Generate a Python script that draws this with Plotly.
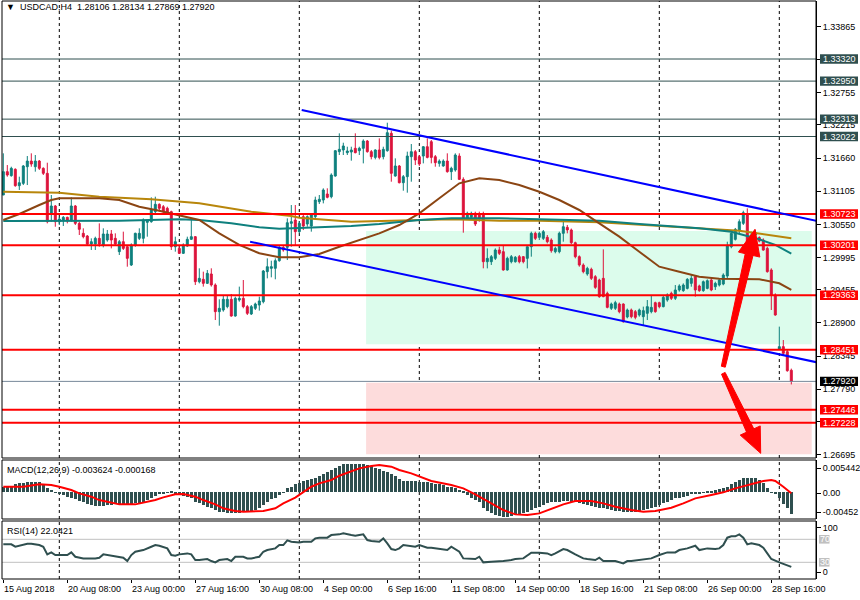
import plotly.graph_objects as go

# ---------------- data ----------------
N = 198
bar_index = list(range(N))

open_ = [1.31042, 1.31433, 1.31366, 1.31472, 1.31198, 1.31237, 1.31516, 1.31611, 1.31516, 1.31611,
         1.31489, 1.31405, 1.30735, 1.30858, 1.30595, 1.30623, 1.30668, 1.30623, 1.30858, 1.30567,
         1.30400, 1.30355, 1.30221, 1.30221, 1.30316, 1.30204, 1.30288, 1.30389, 1.30316, 1.30093,
         1.30260, 1.30176, 1.29869, 1.30204, 1.30316, 1.30316, 1.30584, 1.30595, 1.30763, 1.30886,
         1.30846, 1.30819, 1.30763, 1.30176, 1.30148, 1.30065, 1.30187, 1.30300, 1.30344, 1.29590,
         1.29630, 1.29562, 1.29719, 1.29535, 1.29088, 1.29116, 1.29172, 1.29295, 1.29015, 1.29283,
         1.29311, 1.29172, 1.29049, 1.29144, 1.29199, 1.29255, 1.29758, 1.29814, 1.29814, 1.29942,
         1.30165, 1.30165, 1.30567, 1.30623, 1.30428, 1.30679, 1.30556, 1.30523, 1.30679, 1.30930,
         1.30958, 1.31059, 1.31014, 1.31360, 1.31768, 1.31796, 1.31751, 1.31762, 1.31824, 1.31784,
         1.31824, 1.31946, 1.31768, 1.31672, 1.31796, 1.31684, 1.31784, 1.32075, 1.31360, 1.31528,
         1.31248, 1.31349, 1.31684, 1.31768, 1.31684, 1.31695, 1.31851, 1.31935, 1.31684, 1.31572,
         1.31528, 1.31611, 1.31433, 1.31461, 1.31695, 1.31304, 1.30651, 1.30668, 1.30735, 1.30724,
         1.30724, 1.29925, 1.29925, 1.29981, 1.30121, 1.30093, 1.29786, 1.29925, 1.29925, 1.30009,
         1.30009, 1.29981, 1.30176, 1.30400, 1.30333, 1.30316, 1.30333, 1.30288, 1.30093, 1.30093,
         1.30400, 1.30500, 1.30456, 1.30243, 1.30009, 1.29869, 1.29719, 1.29797, 1.29674, 1.29618,
         1.29646, 1.29395, 1.29144, 1.29144, 1.29216, 1.29216, 1.28999, 1.29116, 1.29088, 1.29032,
         1.29004, 1.29060, 1.29088, 1.29238, 1.29238, 1.29172, 1.29283, 1.29395, 1.29311, 1.29451,
         1.29440, 1.29478, 1.29562, 1.29674, 1.29518, 1.29440, 1.29478, 1.29618, 1.29506, 1.29534,
         1.29551, 1.29685, 1.30176, 1.30299, 1.30456, 1.30567, 1.30707, 1.30260, 1.30372, 1.30330,
         1.30288, 1.30148, 1.29786, 1.29367, 1.28460, 1.28502, 1.28418, 1.28106]

high_ = [1.31740, 1.31544, 1.31516, 1.31489, 1.31349, 1.31544, 1.31695, 1.31740, 1.31712, 1.31628,
         1.31505, 1.31583, 1.31042, 1.30874, 1.30668, 1.30690, 1.30679, 1.31003, 1.30874, 1.30595,
         1.30484, 1.30372, 1.30316, 1.30344, 1.30567, 1.30484, 1.30456, 1.30456, 1.30400, 1.30288,
         1.30428, 1.30187, 1.30232, 1.30411, 1.30484, 1.30651, 1.30623, 1.31003, 1.31014, 1.30902,
         1.30874, 1.30846, 1.30779, 1.30344, 1.30204, 1.30232, 1.30344, 1.30623, 1.30355, 1.29814,
         1.29758, 1.29786, 1.29814, 1.29562, 1.29295, 1.29367, 1.29367, 1.29384, 1.29339, 1.29507,
         1.29618, 1.29199, 1.29199, 1.29239, 1.29339, 1.29786, 1.29981, 1.29942, 1.29981, 1.30187,
         1.30187, 1.30651, 1.30874, 1.30874, 1.30600, 1.30707, 1.30700, 1.30720, 1.31014, 1.31042,
         1.31154, 1.31154, 1.31405, 1.31796, 1.32075, 1.31918, 1.31851, 1.31851, 1.32075, 1.31851,
         1.31974, 1.31963, 1.31796, 1.31807, 1.31991, 1.31851, 1.32253, 1.32119, 1.31656, 1.31544,
         1.31377, 1.31768, 1.31896, 1.31796, 1.31712, 1.31863, 1.31991, 1.31963, 1.31712, 1.31639,
         1.31639, 1.31740, 1.31516, 1.31740, 1.31740, 1.31338, 1.30763, 1.30763, 1.30763, 1.30763,
         1.30763, 1.30148, 1.30037, 1.30148, 1.30176, 1.30204, 1.30009, 1.30037, 1.30020, 1.30037,
         1.30020, 1.30176, 1.30428, 1.30428, 1.30428, 1.30456, 1.30372, 1.30316, 1.30176, 1.30428,
         1.30634, 1.30540, 1.30480, 1.30260, 1.30030, 1.29897, 1.29840, 1.29825, 1.29700, 1.29640,
         1.30132, 1.29423, 1.29240, 1.29270, 1.29240, 1.29227, 1.29140, 1.29140, 1.29116, 1.29140,
         1.29172, 1.29283, 1.29367, 1.29255, 1.29255, 1.29367, 1.29395, 1.29423, 1.29534, 1.29546,
         1.29562, 1.29650, 1.29702, 1.29685, 1.29540, 1.29610, 1.29629, 1.29640, 1.29590, 1.29640,
         1.29730, 1.30260, 1.30420, 1.30490, 1.30634, 1.30779, 1.30818, 1.30428, 1.30456, 1.30350,
         1.30316, 1.30176, 1.29814, 1.29395, 1.28837, 1.28613, 1.28446, 1.28134]

low_ = [1.31042, 1.31349, 1.31349, 1.31181, 1.31126, 1.31209, 1.31209, 1.31516, 1.31433, 1.31461,
        1.31377, 1.30567, 1.30595, 1.30511, 1.30539, 1.30523, 1.30567, 1.30595, 1.30539, 1.30372,
        1.30316, 1.30204, 1.30121, 1.30121, 1.30176, 1.30165, 1.30260, 1.30148, 1.30204, 1.30037,
        1.30121, 1.29841, 1.29853, 1.30176, 1.30288, 1.30232, 1.30344, 1.30578, 1.30735, 1.30763,
        1.30707, 1.30707, 1.30121, 1.30093, 1.30054, 1.30054, 1.30176, 1.30288, 1.29535, 1.29562,
        1.29507, 1.29551, 1.29507, 1.28948, 1.28853, 1.29088, 1.29144, 1.29004, 1.29004, 1.29255,
        1.29144, 1.29032, 1.29032, 1.29116, 1.29105, 1.29227, 1.29646, 1.29663, 1.29630, 1.29925,
        1.30093, 1.29953, 1.30176, 1.30204, 1.30400, 1.30455, 1.30511, 1.30428, 1.30623, 1.30891,
        1.30902, 1.30986, 1.30986, 1.31349, 1.31712, 1.31712, 1.31712, 1.31617, 1.31740, 1.31712,
        1.31572, 1.31751, 1.31639, 1.31639, 1.31639, 1.31639, 1.31768, 1.31265, 1.31349, 1.31237,
        1.31114, 1.31081, 1.31265, 1.31544, 1.31528, 1.31572, 1.31656, 1.31572, 1.31516, 1.31516,
        1.31516, 1.31416, 1.31293, 1.31433, 1.31293, 1.30411, 1.30623, 1.30623, 1.30523, 1.30595,
        1.29814, 1.29813, 1.29870, 1.29953, 1.30037, 1.29775, 1.29775, 1.29897, 1.29909, 1.29897,
        1.29897, 1.29813, 1.30009, 1.30288, 1.30288, 1.30288, 1.30232, 1.30076, 1.30065, 1.30065,
        1.30260, 1.30400, 1.30220, 1.29981, 1.29841, 1.29730, 1.29690, 1.29618, 1.29470, 1.29320,
        1.29330, 1.29144, 1.29116, 1.29116, 1.29060, 1.28903, 1.28976, 1.28976, 1.28960, 1.29004,
        1.28848, 1.28948, 1.29060, 1.29070, 1.29144, 1.29160, 1.29255, 1.29283, 1.29283, 1.29423,
        1.29420, 1.29460, 1.29506, 1.29339, 1.29420, 1.29420, 1.29462, 1.29430, 1.29451, 1.29510,
        1.29530, 1.29646, 1.30150, 1.30280, 1.30400, 1.30540, 1.30232, 1.30232, 1.30350, 1.30250,
        1.30109, 1.29741, 1.29116, 1.29020, 1.28450, 1.28362, 1.28082, 1.27869]

close_ = [1.31433, 1.31377, 1.31489, 1.31198, 1.31248, 1.31528, 1.31611, 1.31561, 1.31611, 1.31489,
          1.31405, 1.30595, 1.30858, 1.30595, 1.30640, 1.30668, 1.30612, 1.30858, 1.30567, 1.30467,
          1.30344, 1.30221, 1.30260, 1.30316, 1.30221, 1.30389, 1.30389, 1.30288, 1.30221, 1.30260,
          1.30148, 1.29981, 1.30204, 1.30400, 1.30400, 1.30623, 1.30623, 1.30802, 1.30886, 1.30819,
          1.30763, 1.30746, 1.30176, 1.30260, 1.30065, 1.30204, 1.30300, 1.30344, 1.29590, 1.29646,
          1.29562, 1.29730, 1.29535, 1.29088, 1.29144, 1.29295, 1.29295, 1.29015, 1.29311, 1.29311,
          1.29172, 1.29060, 1.29172, 1.29216, 1.29267, 1.29769, 1.29841, 1.29841, 1.29942, 1.30165,
          1.30121, 1.30578, 1.30595, 1.30428, 1.30567, 1.30523, 1.30679, 1.30707, 1.30958, 1.30970,
          1.31126, 1.31003, 1.31377, 1.31784, 1.31807, 1.31863, 1.31779, 1.31796, 1.31751, 1.31824,
          1.31946, 1.31768, 1.31684, 1.31796, 1.31672, 1.31807, 1.32086, 1.31405, 1.31528, 1.31248,
          1.31349, 1.31695, 1.31768, 1.31628, 1.31561, 1.31851, 1.31672, 1.31672, 1.31584, 1.31611,
          1.31611, 1.31433, 1.31489, 1.31712, 1.31304, 1.30651, 1.30735, 1.30735, 1.30556, 1.30651,
          1.29925, 1.29981, 1.30009, 1.30121, 1.30065, 1.29786, 1.29981, 1.30009, 1.29998, 1.29925,
          1.29925, 1.30176, 1.30400, 1.30316, 1.30400, 1.30428, 1.30260, 1.30109, 1.30148, 1.30400,
          1.30511, 1.30456, 1.30243, 1.30009, 1.29869, 1.29758, 1.29813, 1.29646, 1.29495, 1.29339,
          1.29339, 1.29160, 1.29216, 1.29239, 1.29088, 1.28920, 1.29116, 1.29004, 1.28993, 1.29116,
          1.29105, 1.29172, 1.29160, 1.29088, 1.29172, 1.29328, 1.29367, 1.29311, 1.29451, 1.29518,
          1.29534, 1.29629, 1.29646, 1.29451, 1.29440, 1.29590, 1.29607, 1.29451, 1.29562, 1.29618,
          1.29702, 1.30187, 1.30400, 1.30467, 1.30595, 1.30746, 1.30260, 1.30372, 1.30411, 1.30270,
          1.30120, 1.29758, 1.29367, 1.29032, 1.28502, 1.28390, 1.28099, 1.27920]

# moving averages (sampled along the drawn lines)
ma_gold_idx = [0, 14, 24, 37, 49, 62, 72, 74, 87, 99, 112, 124, 134, 149, 164, 174, 184, 197]
ma_gold_val = [1.31097, 1.31081, 1.31014, 1.30970, 1.30903, 1.30762, 1.30690, 1.30660, 1.30595,
               1.30612, 1.30635, 1.30612, 1.30612, 1.30585, 1.30523, 1.30494, 1.30444, 1.30317]
ma_teal_idx = [0, 14, 29, 44, 49, 57, 64, 69, 74, 87, 94, 104, 112, 124, 134, 149, 159, 174,
               182, 189, 193, 197]
ma_teal_val = [1.30607, 1.30607, 1.30612, 1.30635, 1.30623, 1.30568, 1.30501, 1.30478, 1.30489,
               1.30523, 1.30556, 1.30623, 1.30652, 1.30652, 1.30635, 1.30612, 1.30556, 1.30484,
               1.30427, 1.30300, 1.30205, 1.30062]
ma_brown_idx = [0, 4, 9, 12, 14, 24, 29, 34, 39, 44, 49, 54, 59, 64, 69, 74, 79, 84, 89, 94, 99,
                104, 109, 114, 119, 124, 129, 134, 139, 144, 149, 154, 159, 164, 169, 174, 179,
                189, 194, 197]
ma_brown_val = [1.30623, 1.30724, 1.30875, 1.30958, 1.30987, 1.30987, 1.30958, 1.30846, 1.30779,
                1.30707, 1.30623, 1.30400, 1.30205, 1.30066, 1.29998, 1.29998, 1.30054, 1.30176,
                1.30288, 1.30400, 1.30539, 1.30735, 1.30987, 1.31238, 1.31322, 1.31293, 1.31210,
                1.31097, 1.30958, 1.30791, 1.30568, 1.30344, 1.30092, 1.29841, 1.29757, 1.29674,
                1.29640, 1.29630, 1.29563, 1.29451]

# MACD(12,26,9) histogram, per bar, in units of 1e-3
macd_hist_milli = [0.93, 0.93, 0.93, 1.33, 1.50, 1.61, 1.67, 1.78, 1.78, 1.67,
                   1.33, 0.65, 0.37, -0.02, -0.19, -0.47, -0.75, -0.92, -1.15, -1.49,
                   -1.71, -1.94, -2.16, -2.27, -2.27, -2.27, -2.16, -2.16, -2.05, -2.05,
                   -2.05, -2.05, -2.05, -1.88, -1.88, -1.60, -1.32, -0.92, -0.59, -0.36,
                   -0.19, -0.02, 0.09, -0.19, -0.36, -0.59, -0.75, -0.92, -1.60, -1.88,
                   -2.16, -2.44, -2.61, -3.01, -3.29, -3.40, -3.51, -3.57, -3.57, -3.51,
                   -3.40, -3.29, -3.18, -3.01, -2.72, -2.16, -1.60, -1.20, -0.92, -0.47,
                   -0.02, 0.65, 0.93, 1.33, 1.61, 1.89, 2.06, 2.23, 2.45, 2.74,
                   3.02, 3.36, 3.75, 4.14, 4.48, 4.71, 4.71, 4.71, 4.76, 4.76,
                   4.71, 4.59, 4.42, 4.14, 3.92, 3.58, 3.36, 3.02, 2.79, 2.23,
                   1.89, 1.89, 1.89, 1.89, 1.78, 1.67, 1.67, 1.50, 1.33, 1.33,
                   1.22, 0.93, 0.93, 0.65, 0.37, 0.09, -0.47, -0.92, -1.32, -1.71,
                   -2.72, -3.18, -3.57, -3.85, -4.02, -4.13, -4.13, -4.02, -3.85, -3.74,
                   -3.57, -3.29, -3.01, -2.72, -2.44, -2.16, -1.88, -1.71, -1.60, -1.60,
                   -1.49, -1.49, -1.60, -1.71, -1.88, -2.05, -2.16, -2.27, -2.44, -2.61,
                   -2.72, -2.89, -3.01, -3.12, -3.18, -3.29, -3.29, -3.29, -3.29, -3.18,
                   -3.01, -2.84, -2.61, -2.44, -2.16, -1.88, -1.60, -1.32, -1.04, -0.92,
                   -0.75, -0.59, -0.36, -0.25, -0.14, -0.08, 0.09, 0.20, 0.32, 0.49,
                   0.65, 0.93, 1.33, 1.78, 2.06, 2.34, 2.34, 2.34, 2.34, 2.06,
                   1.50, 0.77, -0.02, -0.36, -1.04, -2.05, -2.72, -3.624]
macd_sig_idx = [0, 5, 9, 12, 14, 17, 19, 22, 24, 27, 29, 33, 35, 38, 40, 43, 45, 48, 50, 53,
                55, 58, 60, 63, 65, 68, 70, 73, 75, 77, 79, 82, 84, 87, 89, 92, 94, 97, 99, 102,
                104, 107, 112, 115, 118, 122, 125, 128, 131, 134, 137, 140, 143, 147, 150, 153,
                157, 160, 163, 167, 170, 173, 177, 180, 183, 187, 190, 192, 193, 195, 197]
macd_sig_milli = [0.93, 0.93, 1.33, 1.22, 0.93, 0.37, -0.19, -0.75, -1.32, -1.71,
                  -2.05, -2.05, -1.77, -1.32, -0.87, -0.36, -0.30, -0.75, -1.32, -2.05,
                  -2.72, -3.18, -3.29, -3.29, -3.18, -2.72, -1.88, -0.92, -0.02, 0.93,
                  1.50, 2.06, 2.79, 3.47, 4.03, 4.42, 4.59, 4.31, 3.75, 3.19,
                  2.62, 1.89, 1.22, 0.65, -0.36, -1.88, -3.01, -3.74, -3.85, -3.57,
                  -2.84, -2.05, -1.49, -1.49, -1.88, -2.44, -3.01, -3.29, -3.18, -2.62,
                  -1.88, -1.04, -0.47, -0.02, 0.65, 1.33, 1.89, 2.06, 1.89, 0.93, -0.168]

# RSI(14)
rsi_idx = [0, 2, 3, 4, 6, 7, 9, 10, 11, 12, 13, 16, 17, 18, 20, 23, 24, 25, 27, 28, 30, 31, 32,
           33, 35, 37, 38, 39, 40, 41, 42, 43, 44, 46, 47, 48, 49, 51, 52, 53, 54, 56, 57, 58,
           60, 61, 62, 64, 65, 66, 68, 69, 70, 71, 72, 74, 75, 77, 78, 79, 81, 82, 84, 85, 87,
           88, 89, 90, 91, 92, 94, 95, 96, 97, 98, 99, 100, 102, 103, 104, 106, 107, 109, 111,
           112, 114, 115, 117, 118, 119, 120, 122, 123, 125, 127, 128, 130, 132, 134, 136, 137,
           138, 140, 141, 143, 145, 146, 148, 149, 150, 152, 153, 155, 156, 157, 159, 161, 162,
           164, 166, 168, 169, 171, 173, 174, 176, 178, 179, 180, 181, 182, 183, 184, 185, 186,
           187, 189, 190, 191, 192, 194, 195, 196, 197]
rsi_val = [61.2, 61.2, 57.1, 58.8, 62.3, 62.3, 60.0, 57.1, 43.8, 47.2, 42.6, 42.6, 47.2, 39.7,
           36.8, 36.8, 38.0, 43.8, 41.4, 39.7, 38.0, 32.2, 42.6, 48.4, 51.3, 57.1, 60.0, 58.8,
           57.1, 54.2, 42.6, 41.4, 43.8, 45.5, 43.8, 33.9, 33.9, 35.7, 32.2, 29.9, 33.9, 35.7,
           32.2, 39.7, 39.7, 36.8, 36.8, 39.7, 48.4, 51.3, 54.2, 60.0, 60.0, 68.1, 65.8, 64.6,
           65.8, 65.8, 71.6, 72.8, 72.8, 77.4, 78.6, 80.3, 77.4, 76.2, 77.4, 78.6, 68.7, 67.0,
           65.8, 71.6, 62.9, 53.0, 51.3, 54.2, 60.0, 58.8, 57.1, 60.0, 55.4, 55.4, 53.0, 51.3,
           57.1, 48.4, 36.8, 35.7, 35.7, 39.7, 29.9, 31.0, 31.0, 32.2, 33.9, 35.7, 36.8, 46.7,
           46.7, 45.5, 42.6, 45.5, 53.0, 51.3, 43.8, 36.8, 35.7, 33.9, 38.0, 32.2, 32.2, 32.2,
           28.1, 32.2, 32.2, 33.9, 35.7, 36.8, 42.6, 47.2, 47.2, 51.3, 54.2, 58.8, 51.3, 54.2,
           53.0, 54.2, 60.0, 72.8, 75.1, 75.1, 78.6, 72.8, 61.2, 62.9, 60.0, 55.4, 45.5, 35.7,
           29.9, 27.5, 25.2, 22.04]

# horizontal levels
slate_levels = [1.33320, 1.32950, 1.32313, 1.32022]
red_levels = [1.30723, 1.30201, 1.29363, 1.28451, 1.27446, 1.27228]
bid_level = 1.27920

# price-axis tick labels
price_ticks = [1.33865, 1.33310, 1.32755, 1.32215, 1.31660, 1.31105, 1.30550, 1.29995,
               1.29455, 1.28900, 1.28345, 1.27790, 1.27240, 1.26695]

# time labels (bar index -> text) and weekly separators
time_tick_idx = [0, 16, 32, 48, 64, 80, 96, 112, 128, 144, 160, 176, 192]
time_tick_text = ["15 Aug 2018", "20 Aug 08:00", "23 Aug 00:00", "27 Aug 16:00", "30 Aug 08:00",
                  "4 Sep 00:00", "6 Sep 16:00", "11 Sep 08:00", "14 Sep 00:00", "18 Sep 16:00",
                  "21 Sep 08:00", "26 Sep 00:00", "28 Sep 16:00"]
week_sep_idx = [14, 44, 74, 104, 134, 164, 194]

assert all(len(a) == N for a in (open_, high_, low_, close_, macd_hist_milli))
assert len(macd_sig_idx) == len(macd_sig_milli)
assert len(rsi_idx) == len(rsi_val)

# ---------------- styling / layout ----------------
FONT = "Liberation Sans, Arial, sans-serif"
BULL = "#0E807E"
BEAR = "#DC143C"
SLATE = "#2F4F4F"
W, H = 860, 600
MT, MB, ML, MR = 1, 21, 2, 44
PH = H - MT - MB


def py(ypx):
    """pixel row -> paper fraction"""
    return (H - MB - ypx) / PH


dom_main = [py(458), py(1)]
dom_macd = [py(519), py(460)]
dom_rsi = [py(579), py(521)]

x_range = [-0.325, 203.175]
main_range = [1.266367, 1.342917]
macd_range = [-0.00452, 0.005442]
rsi_range = [0.96, 101.83]

fig = go.Figure()

fig.add_trace(go.Candlestick(
    x=bar_index, open=open_, high=high_, low=low_, close=close_,
    increasing=dict(line=dict(color=BULL, width=1), fillcolor=BULL),
    decreasing=dict(line=dict(color=BEAR, width=1), fillcolor=BEAR),
    whiskerwidth=0, hoverinfo="skip", showlegend=False, xaxis="x", yaxis="y"))

for idx, val, col in ((ma_gold_idx, ma_gold_val, "#B8860B"),
                      (ma_teal_idx, ma_teal_val, "#0E807E"),
                      (ma_brown_idx, ma_brown_val, "#8B4513")):
    fig.add_trace(go.Scatter(x=idx, y=val, mode="lines", line=dict(color=col, width=2),
                             hoverinfo="skip", showlegend=False, xaxis="x", yaxis="y"))

fig.add_trace(go.Bar(x=bar_index, y=[v * 1e-3 for v in macd_hist_milli], width=0.6,
                     marker=dict(color=SLATE, line=dict(width=0)),
                     hoverinfo="skip", showlegend=False, xaxis="x", yaxis="y2"))
fig.add_trace(go.Scatter(x=macd_sig_idx, y=[v * 1e-3 for v in macd_sig_milli], mode="lines",
                         line=dict(color="#FF0000", width=2), hoverinfo="skip",
                         showlegend=False, xaxis="x", yaxis="y2"))
fig.add_trace(go.Scatter(x=rsi_idx, y=rsi_val, mode="lines", line=dict(color=SLATE, width=2),
                         hoverinfo="skip", showlegend=False, xaxis="x", yaxis="y3"))

shapes = []
# background rectangles (time/price objects)
shapes.append(dict(type="rect", xref="x", yref="y", x0=90.7, x1=202.1, y0=1.28541, y1=1.30439,
                   fillcolor="#DCFCEC", line=dict(width=0), layer="below"))
shapes.append(dict(type="rect", xref="x", yref="y", x0=90.7, x1=202.1, y0=1.26699, y1=1.27898,
                   fillcolor="#FDDCDC", line=dict(width=0), layer="below"))
# weekly dashed separators
for g in week_sep_idx:
    for d in (dom_main, dom_macd, dom_rsi):
        shapes.append(dict(type="line", xref="x", yref="paper", x0=g, x1=g, y0=d[0], y1=d[1],
                           line=dict(color="black", width=1, dash="3px,3px"), layer="below"))
# RSI levels
for lv in (70, 30):
    shapes.append(dict(type="line", xref="paper", yref="y3", x0=0, x1=1, y0=lv, y1=lv,
                       line=dict(color="#C0C0C0", width=1), layer="below"))
# horizontal price levels
for lv in slate_levels:
    shapes.append(dict(type="line", xref="paper", yref="y", x0=0, x1=1, y0=lv, y1=lv,
                       line=dict(color=SLATE, width=1), layer="above"))
shapes.append(dict(type="line", xref="paper", yref="y", x0=0, x1=1, y0=bid_level, y1=bid_level,
                   line=dict(color="#778899", width=1), layer="above"))
for lv in red_levels:
    shapes.append(dict(type="line", xref="paper", yref="y", x0=0, x1=1, y0=lv, y1=lv,
                       line=dict(color="#FF0000", width=2), layer="above"))
# channel lines
shapes.append(dict(type="line", xref="x", yref="y", x0=74.6, y0=1.32466, x1=203.35, y1=1.30607,
                   line=dict(color="#0000FF", width=2), layer="above"))
shapes.append(dict(type="line", xref="x", yref="y", x0=61.7, y0=1.30260, x1=203.35, y1=1.28240,
                   line=dict(color="#0000FF", width=2), layer="above"))
# arrows (shaft polygon + head triangle)
arrow_paths = [
    "M 180.49,1.28158 L 187.43,1.30029 L 185.48,1.30059 L 179.51,1.28174 Z",
    "M 183.78,1.30086 L 187.93,1.30468 L 189.13,1.30002 Z",
    "M 179.55,1.28041 L 185.82,1.27069 L 187.63,1.27125 L 180.46,1.28070 Z",
    "M 184.23,1.27020 L 189.35,1.26715 L 189.23,1.27174 Z",
]
for p in arrow_paths:
    shapes.append(dict(type="path", xref="x", yref="y", path=p, fillcolor="#FF0000",
                       line=dict(color="#FF0000", width=1), layer="above"))
# price label boxes on the right axis
annotations = []
box_specs = [(v, SLATE) for v in slate_levels] + [(v, "#FF0000") for v in red_levels] + \
            [(bid_level, "#000000")]
for v, col in box_specs:
    shapes.append(dict(type="rect", xref="paper", yref="y", xsizemode="pixel", ysizemode="pixel",
                       xanchor=1, x0=4, x1=42, yanchor=v, y0=-4.7, y1=4.7,
                       fillcolor=col, line=dict(width=0), layer="above"))
    annotations.append(dict(xref="paper", yref="y", x=1, y=v, xshift=23, xanchor="center",
                            yanchor="middle", text=f"{v:.5f}", showarrow=False,
                            font=dict(family=FONT, size=9, color="white")))
for lv in (70, 30):
    shapes.append(dict(type="rect", xref="paper", yref="y3", xsizemode="pixel", ysizemode="pixel",
                       xanchor=1, x0=3, x1=13.5, yanchor=lv, y0=-4.3, y1=4.3,
                       fillcolor="#C0C0C0", line=dict(width=0), layer="above"))
    annotations.append(dict(xref="paper", yref="y3", x=1, y=lv, xshift=8.5, xanchor="center",
                            yanchor="middle", text=str(lv), showarrow=False,
                            font=dict(family=FONT, size=9, color="white")))
# panel frames
for d in (dom_main, dom_macd, dom_rsi):
    shapes.append(dict(type="rect", xref="paper", yref="paper", x0=0, x1=1, y0=d[0], y1=d[1],
                       line=dict(color="black", width=1), fillcolor="rgba(0,0,0,0)",
                       layer="above"))

# texts
annotations.append(dict(xref="paper", yref="paper", x=0, y=py(7), xshift=2, xanchor="left",
                        yanchor="middle", showarrow=False,
                        text="▼\u00a0\u00a0USDCAD,H4\u00a0\u00a01.28106 1.28134 1.27869 1.27920",
                        font=dict(family=FONT, size=9, color="black")))
annotations.append(dict(xref="paper", yref="paper", x=0, y=py(470), xshift=3, xanchor="left",
                        yanchor="middle", showarrow=False,
                        text="MACD(12,26,9) -0.003624 -0.000168",
                        font=dict(family=FONT, size=9, color="black")))
annotations.append(dict(xref="paper", yref="paper", x=0, y=py(530.7), xshift=3, xanchor="left",
                        yanchor="middle", showarrow=False, text="RSI(14) 22.0421",
                        font=dict(family=FONT, size=9, color="black")))
for i, t in zip(time_tick_idx, time_tick_text):
    annotations.append(dict(xref="x", yref="paper", x=i, y=py(588.5), xshift=-1.5,
                            xanchor="left", yanchor="middle", showarrow=False, text=t,
                            font=dict(family=FONT, size=9, color="black")))

axis_common = dict(showgrid=False, zeroline=False, showline=True, linecolor="black",
                   linewidth=1, ticks="outside", ticklen=4, tickcolor="black",
                   side="right", anchor="x", fixedrange=True,
                   tickfont=dict(family=FONT, size=9, color="black"))

fig.update_layout(
    width=W, height=H,
    margin=dict(l=ML, r=MR, t=MT, b=MB, pad=0),
    paper_bgcolor="white", plot_bgcolor="white",
    showlegend=False, boxgap=0.3, bargap=0,
    xaxis=dict(range=x_range, domain=[0, 1], anchor="y3", showgrid=False, zeroline=False,
               showline=False, ticks="outside", ticklen=3, tickcolor="black",
               tickvals=time_tick_idx, showticklabels=False, fixedrange=True,
               rangeslider=dict(visible=False)),
    yaxis=dict(domain=dom_main, range=main_range, tickvals=price_ticks,
               ticktext=[f"{v:.5f}" for v in price_ticks], **axis_common),
    yaxis2=dict(domain=dom_macd, range=macd_range, tickvals=[0.004041, -0.000181, -0.003389],
                ticktext=["0.005442", "0.00", "-0.00452"], **axis_common),
    yaxis3=dict(domain=dom_rsi, range=rsi_range, tickvals=[90.17, 12.6],
                ticktext=["100", "0"], **axis_common),
    shapes=shapes,
    annotations=annotations,
)

fig.write_html("out.html", config={"displayModeBar": False})
